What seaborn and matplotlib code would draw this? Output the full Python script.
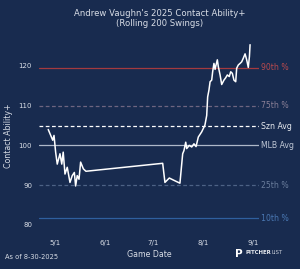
import numpy as np
import pandas as pd
import matplotlib
matplotlib.use("Agg")
import matplotlib.pyplot as plt
import seaborn as sns

# ---- data (days after 2025-05-01, rolling Contact Ability+) ----
day_offsets = [-4.2, -1.4, -0.6, 0.4, 1.4, 3.1, 4.2, 5.1, 6.2, 7.6, 9.3, 10.7, 12.0,
               12.8, 13.8, 14.9, 15.9, 17.6, 19.2,
               66.8, 68.2, 70.9, 73.4, 77.5, 79.2, 80.0, 81.1, 81.7, 83.3, 84.8,
               86.2, 87.5, 88.9, 91.0, 93.0, 94.1, 94.7, 95.5, 96.2, 97.2, 97.8,
               98.6, 99.3, 99.9, 100.7, 101.3, 102.4, 103.4, 104.8, 105.9, 106.9,
               108.1, 109.0, 110.0, 111.0, 112.1, 112.7, 113.7, 114.8, 115.8,
               116.8, 117.9, 118.9, 119.9, 120.6, 121.0]
contact_ability = [104.0, 101.3, 102.5, 98.3, 95.3, 97.9, 95.3, 98.3, 92.8, 94.5,
                   90.7, 92.4, 93.2, 89.8, 92.4, 91.5, 95.8, 94.1, 93.5,
                   95.5, 90.7, 91.8, 91.3, 90.5, 97.9, 98.7, 100.8, 99.2, 100.0,
                   99.6, 100.4, 99.7, 102.1, 103.4, 105.1, 107.5, 112.2, 113.9,
                   116.0, 116.4, 118.5, 120.6, 119.1, 120.2, 121.5, 119.8, 117.7,
                   115.3, 116.4, 117.0, 117.7, 117.3, 118.5, 118.1, 116.4, 116.0,
                   119.4, 120.2, 120.6, 121.0, 121.9, 123.0, 121.5, 119.6, 122.3,
                   125.3]

ref_labels = ["90th %", "75th %", "Szn Avg", "MLB Avg", "25th %", "10th %"]
ref_values = [119.5, 110.0, 104.8, 100.0, 90.0, 81.7]

xtick_dates = ["2025-05-01", "2025-06-01", "2025-07-01", "2025-08-01", "2025-09-01"]
xtick_labels = ["5/1", "6/1", "7/1", "8/1", "9/1"]
ytick_values = [80, 90, 100, 110, 120]

title_text = "Andrew Vaughn's 2025 Contact Ability+\n(Rolling 200 Swings)"
as_of_text = "As of 8-30-2025"

# ---- styling ----
BG = "#182b4f"
TXT = "#d8dde6"
ref_styles = {
    "90th %": dict(color="#a33a3f", ls="-", tc="#b84a4e"),
    "75th %": dict(color="#6e6580", ls="--", tc="#8a7f96"),
    "Szn Avg": dict(color="#ffffff", ls="--", tc="#e8ebf0"),
    "MLB Avg": dict(color="#aeb8c9", ls="-", tc="#c0c8d6"),
    "25th %": dict(color="#4d6285", ls="--", tc="#6a7d9c"),
    "10th %": dict(color="#2f5f9e", ls="-", tc="#4a78b3"),
}

sns.set_style("dark")
plt.rcParams["font.family"] = ["DejaVu Sans"]

df = pd.DataFrame({
    "date": pd.Timestamp("2025-05-01") + pd.to_timedelta(day_offsets, unit="D"),
    "value": contact_ability,
})

fig = plt.figure(figsize=(3.0, 2.69), dpi=100, facecolor=BG)
ax = fig.add_axes([0.13, 0.134, 0.734, 0.725])
ax.set_facecolor(BG)

for lab, val in zip(ref_labels, ref_values):
    st = ref_styles[lab]
    ax.axhline(val, color=st["color"], ls=st["ls"], lw=0.9,
               dashes=(3, 2) if st["ls"] == "--" else (None, None), zorder=1)
    ax.text(1.01, val, lab, transform=ax.get_yaxis_transform(), color=st["tc"],
            fontsize=5.6, va="center", ha="left")

sns.lineplot(data=df, x="date", y="value", ax=ax, color="white", lw=1.1,
             zorder=3, estimator=None)

ax.set_xlim(pd.Timestamp("2025-04-21 02:00"), pd.Timestamp("2025-09-04 16:00"))
ax.set_ylim(78, 127)
ax.set_xticks(pd.to_datetime(xtick_dates))
ax.set_xticklabels(xtick_labels)
ax.set_yticks(ytick_values)
ax.tick_params(colors=TXT, labelsize=5, length=3, width=0.7, pad=2)
ax.grid(False)
for s in ax.spines.values():
    s.set_visible(False)
ax.set_xlabel("Game Date", color=TXT, fontsize=5.7, labelpad=3)
ax.set_ylabel("Contact Ability+", color=TXT, fontsize=5.7, labelpad=4)

fig.text(0.533, 0.965, title_text, ha="center", va="top", color=TXT,
         fontsize=6.1, linespacing=1.1)
fig.text(0.017, 0.045, as_of_text, ha="left", va="center", color=TXT, fontsize=4.8)

# Pitcher List logo as text
fig.text(0.783, 0.055, "P", ha="left", va="center", color="white",
         fontsize=7.5, fontweight="bold")
t1 = fig.text(0.82, 0.06, "PITCHER", ha="left", va="center", color="#e6e9ee",
              fontsize=3.9, fontweight="bold")
fig.canvas.draw()
bb = t1.get_window_extent(renderer=fig.canvas.get_renderer())
x_end = fig.transFigure.inverted().transform((bb.x1, bb.y0))[0]
fig.text(x_end, 0.06, "LIST", ha="left", va="center", color="#c8ced8",
         fontsize=3.9)

fig.savefig("out.png", dpi=100, facecolor=BG)
